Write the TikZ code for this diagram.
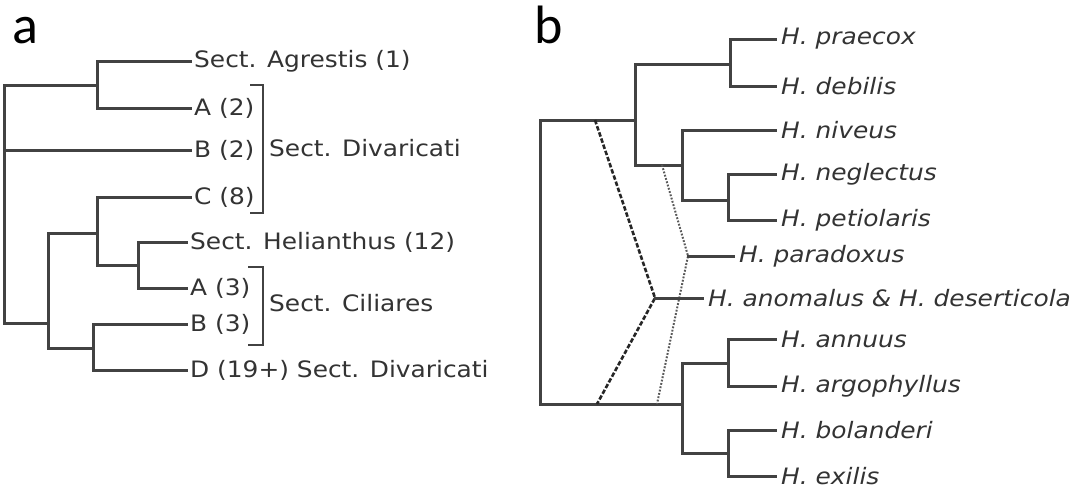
\documentclass[tikz,border=0pt]{standalone}
\usepackage{fontspec}
\newfontfamily\labfont[FakeStretch=1.1]{DejaVu Sans}
\newfontfamily\panelfont{Carlito}
\definecolor{treeline}{HTML}{424242}
\definecolor{labtext}{HTML}{333333}
\begin{document}
\begin{tikzpicture}[x=1pt,y=-1pt,
  branch/.style={draw=treeline,line width=3pt,line cap=rect},
  leaf/.style={anchor=west,inner xsep=4pt,inner ysep=0pt,text=labtext,font=\labfont\fontsize{22.6}{26}\selectfont},
  ileaf/.style={leaf,inner xsep=6pt,font=\labfont\itshape\fontsize{22.6}{26}\selectfont},
  panel/.style={anchor=base west,inner sep=0pt,font=\panelfont\fontsize{54}{60}\selectfont},
  bracketline/.style={draw=treeline,line width=2pt},
  hybdash/.style={draw=black!85,line width=2.6pt,dash pattern=on 4.5pt off 2pt},
  hybdot/.style={draw=black!65,line width=2pt,dash pattern=on 1.8pt off 1.6pt}]
\useasboundingbox (0,0) rectangle (1077,496);
\fill[white] (0,0) rectangle (1077,496);

% ---------- panel a ----------
\node[panel] (pa) at (12,43) {a};
\node[leaf] (lAg) at (190,61) {Sect. Agrestis (1)};
\node[leaf] (lA2) at (190,108) {A (2)};
\node[leaf] (lB2) at (190,150) {B (2)};
\node[leaf] (lC8) at (190,197) {C (8)};
\node[leaf] (lHe) at (186,242) {Sect. Helianthus (12)};
\node[leaf] (lA3) at (186,288) {A (3)};
\node[leaf] (lB3) at (186,324) {B (3)};
\node[leaf] (lD) at (186,370) {D (19+) Sect. Divaricati};
\node[leaf] (sDiv) at (265,148) {Sect. Divaricati};
\node[leaf] (sCil) at (265,303) {Sect. Ciliares};

\coordinate (ra) at (4,150);
\coordinate (a1) at (97,85);
\coordinate (a3) at (48,323);
\coordinate (a4) at (97,233);
\coordinate (a6) at (138,265);
\coordinate (a5) at (93,348);

\draw[branch] (ra) |- (a1);
\draw[branch] (ra) |- (a3);
\draw[branch] (ra) -- (lB2.west);
\draw[branch] (a1) |- (lAg.west);
\draw[branch] (a1) |- (lA2.west);
\draw[branch] (a3) |- (a4);
\draw[branch] (a3) |- (a5);
\draw[branch] (a4) |- (lC8.west);
\draw[branch] (a4) |- (a6);
\draw[branch] (a6) |- (lHe.west);
\draw[branch] (a6) |- (lA3.west);
\draw[branch] (a5) |- (lB3.west);
\draw[branch] (a5) |- (lD.west);

\draw[bracketline] (250,85) -- (263,85) -- (263,213) -- (250,213);
\draw[bracketline] (248,267) -- (263,267) -- (263,345) -- (248,345);

% ---------- panel b ----------
\node[panel] (pb) at (534,43) {b};
\node[ileaf] (lpra) at (775,39) {H. praecox};
\node[ileaf] (ldeb) at (775,86) {H. debilis};
\node[ileaf] (lniv) at (775,130) {H. niveus};
\node[ileaf] (lneg) at (775,174) {H. neglectus};
\node[ileaf] (lpet) at (775,220) {H. petiolaris};
\node[ileaf] (lpar) at (733,256) {H. paradoxus};
\node[ileaf] (lano) at (702,298) {H. anomalus \& H. deserticola};
\node[ileaf] (lann) at (775,339) {H. annuus};
\node[ileaf] (larg) at (775,386) {H. argophyllus};
\node[ileaf] (lbol) at (775,430) {H. bolanderi};
\node[ileaf] (lexi) at (775,476) {H. exilis};

\coordinate (rb) at (540,262);
\coordinate (b1) at (635,120);
\coordinate (b2) at (730,64);
\coordinate (b3) at (682,165);
\coordinate (b4) at (728,200);
\coordinate (b5) at (682,404);
\coordinate (b6) at (728,363);
\coordinate (b7) at (728,453);

\draw[branch] (rb) |- (b1);
\draw[branch] (rb) |- (b5);
\draw[branch] (b1) |- (b2);
\draw[branch] (b1) |- (b3);
\draw[branch] (b2) |- (lpra.west);
\draw[branch] (b2) |- (ldeb.west);
\draw[branch] (b3) |- (lniv.west);
\draw[branch] (b3) |- (b4);
\draw[branch] (b4) |- (lneg.west);
\draw[branch] (b4) |- (lpet.west);
\draw[branch] (b5) |- (b6);
\draw[branch] (b5) |- (b7);
\draw[branch] (b6) |- (lann.west);
\draw[branch] (b6) |- (larg.west);
\draw[branch] (b7) |- (lbol.west);
\draw[branch] (b7) |- (lexi.west);

% hybrid origins
\coordinate (hA) at (655,298);
\coordinate (hP) at (688,256);
\coordinate (dTop) at (595,120);
\coordinate (dBot) at (597,404);
\coordinate (pTop) at (662,165);
\coordinate (pBot) at (657,404);
\draw[hybdot] (pTop) -- (hP) -- (pBot);
\draw[hybdash] (dTop) -- (hA) -- (dBot);
\draw[branch] (hA) -- (lano.west);
\draw[branch] (hP) -- (lpar.west);
\end{tikzpicture}
\end{document}
